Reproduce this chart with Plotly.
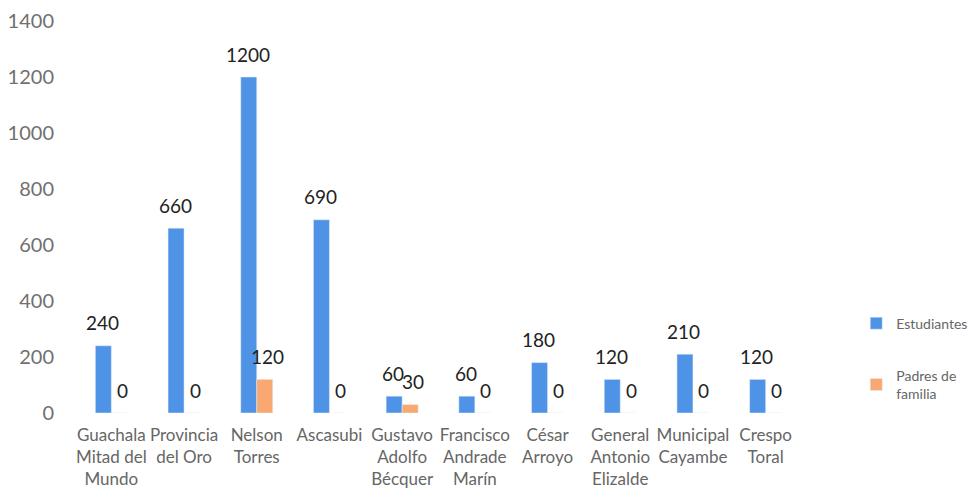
import plotly.graph_objects as go

categories = [
    "Guachala<br>Mitad del<br>Mundo",
    "Provincia<br>del Oro",
    "Nelson<br>Torres",
    "Ascasubi",
    "Gustavo<br>Adolfo<br>Bécquer",
    "Francisco<br>Andrade<br>Marín",
    "César<br>Arroyo",
    "General<br>Antonio<br>Elizalde",
    "Municipal<br>Cayambe",
    "Crespo<br>Toral",
]
estudiantes = [240, 660, 1200, 690, 60, 60, 180, 120, 210, 120]
padres = [0, 0, 120, 0, 30, 0, 0, 0, 0, 0]
y_ticks = [0, 200, 400, 600, 800, 1000, 1200, 1400]

FONT = "Lato"
BAR_PX = 16

fig = go.Figure()
fig.add_trace(go.Bar(
    x=categories, y=estudiantes, name="Estudiantes",
    marker_color="#4F93E6", legendgroup="a",
))
fig.add_trace(go.Bar(
    x=categories, y=padres, name="Padres de<br>familia",
    marker_color="#F8A870", legendgroup="b",
))

# value labels above each bar, placed via the axis scales
for vals, shift in ((estudiantes, -BAR_PX / 2 - 1), (padres, BAR_PX / 2 + 3)):
    for cat, v in zip(categories, vals):
        fig.add_annotation(
            x=cat, y=v, text=str(v), showarrow=False,
            xshift=shift, yshift=23,
            font=dict(size=19, color="#222222", family=FONT),
        )

fig.update_layout(
    width=973, height=489,
    margin=dict(l=75, r=171, t=21, b=76, autoexpand=False),
    paper_bgcolor="white", plot_bgcolor="white",
    barmode="group", bargap=0.56, bargroupgap=0,
    font=dict(family=FONT, color="#666666", size=14),
    showlegend=True,
    legend=dict(x=0.880, y=0.371, xref="container", yref="container",
                xanchor="left", yanchor="top",
                tracegroupgap=31, traceorder="grouped",
                font=dict(size=14, color="#666666"),
                itemwidth=30),
    xaxis=dict(showgrid=False, showline=False, ticks="", automargin=False,
               ticklabelstandoff=10,
               tickfont=dict(size=17, color="#666666")),
    yaxis=dict(range=[0, 1400], tickvals=y_ticks, showgrid=False,
               showline=False, zeroline=False, ticks="", automargin=False,
               ticklabelstandoff=20,
               tickfont=dict(size=20, color="#707070")),
)
fig.write_html("out.html", config={"displayModeBar": False},
               post_script="document.body.style.margin='0';")
